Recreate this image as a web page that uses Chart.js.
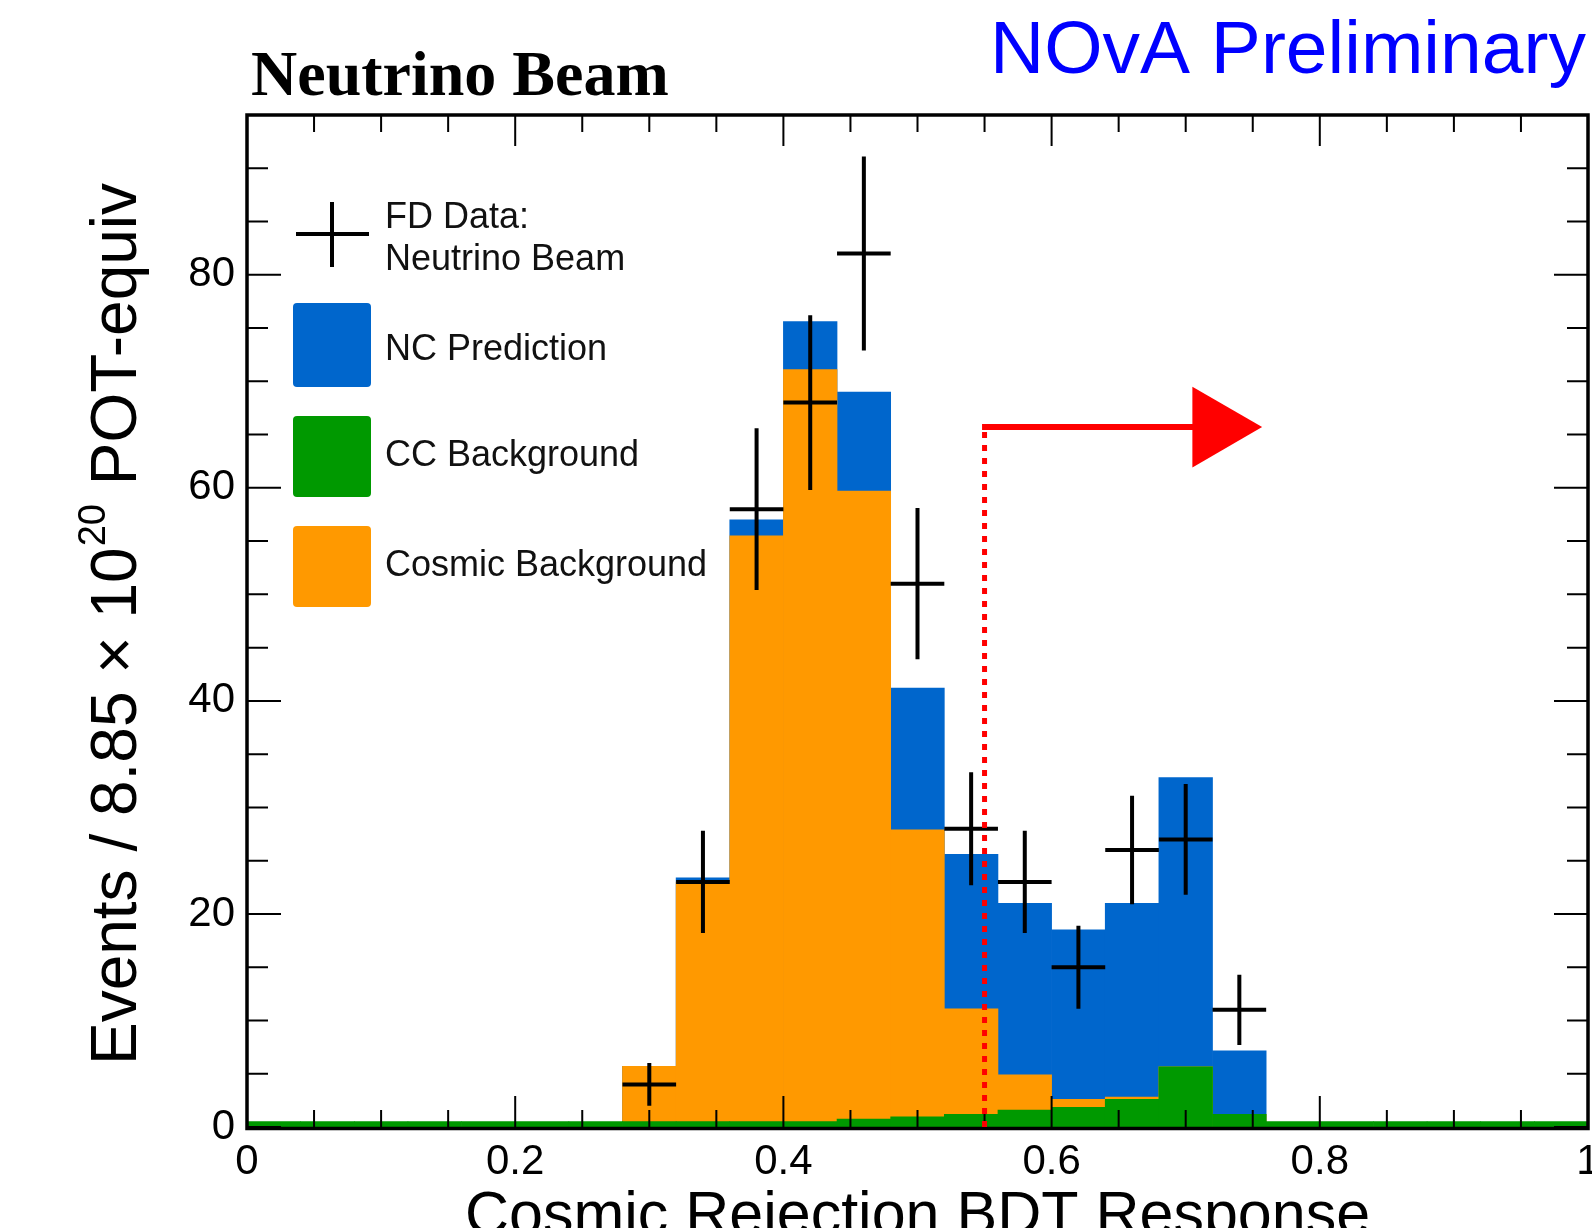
<!DOCTYPE html>
<html>
<head>
<meta charset="utf-8">
<script src="https://cdn.jsdelivr.net/npm/chart.js@4.4.1/dist/chart.umd.min.js"></script>
<style>
  html, body { margin: 0; padding: 0; background: #fff; }
  canvas { display: block; }
</style>
</head>
<body>
<canvas id="chartBDT" width="1592" height="1228"></canvas>
<script>
// histogram bins (width 0.04) of the cosmic rejection BDT
const binCenters = [0.02, 0.06, 0.10, 0.14, 0.18, 0.22, 0.26, 0.30, 0.34, 0.38, 0.42, 0.46, 0.50,
                    0.54, 0.58, 0.62, 0.66, 0.70, 0.74, 0.78, 0.82, 0.86, 0.90, 0.94, 0.98];
// levels as drawn (overlaid): NC prediction = total, cosmic = cosmic + CC, CC alone
const ncTotal   = [0, 0, 0, 0, 0, 0, 0, 5.7, 23.4, 57.0, 75.6, 69.0, 41.2,
                   25.6, 21.0, 18.5, 21.0, 32.8, 7.15, 0, 0, 0, 0, 0, 0];
const cosmicBkg = [0, 0, 0, 0, 0, 0, 0, 5.7, 23.0, 55.5, 71.1, 59.7, 27.9,
                   11.1, 4.9, 2.6, 2.8, 5.65, 1.2, 0, 0, 0, 0, 0, 0];
const ccBkg     = [0.5, 0.5, 0.5, 0.5, 0.5, 0.5, 0.5, 0.5, 0.5, 0.5, 0.5, 0.75, 0.95,
                   1.2, 1.6, 1.85, 2.6, 5.65, 1.2, 0.5, 0.5, 0.5, 0.5, 0.5, 0.5];

// FD data points with errors
const dataX   = [0.30, 0.34, 0.38, 0.42, 0.46, 0.50, 0.54, 0.58, 0.62, 0.66, 0.70, 0.74];
const dataY   = [4, 23, 58, 68, 82, 51, 28, 23, 15, 26, 27, 11];
const dataErr = [2.0, 4.8, 7.6, 8.2, 9.1, 7.1, 5.3, 4.8, 3.9, 5.1, 5.2, 3.3];

const xTickValues = [0, 0.2, 0.4, 0.6, 0.8, 1];
const xTickLabels = ['0', '0.2', '0.4', '0.6', '0.8', '1'];
const yTickValues = [0, 20, 40, 60, 80];
const yTickLabels = ['0', '20', '40', '60', '80'];

// selection cut
const cutValue = 0.55;
const arrowLevel = 65.7;
const arrowTip = 0.757;

const binWidth = 0.04;
const sans = '"Liberation Sans", Arial, Helvetica, sans-serif';

const histo = (vals) => binCenters.map((x, i) => ({ x: x, y: vals[i] }));

// ROOT-ish frame, inner ticks, data crosses, cut arrow, legend and titles
const rootStyle = {
    id: 'rootStyle',
    afterDatasetsDraw(chart) {
        const c = chart.ctx;
        const xs = chart.scales.x, ys = chart.scales.y;
        const a = chart.chartArea;
        c.save();

        // data crosses
        c.strokeStyle = '#000';
        c.lineWidth = 4;
        dataX.forEach((x, i) => {
            const px = xs.getPixelForValue(x);
            const py = ys.getPixelForValue(dataY[i]);
            c.beginPath();
            c.moveTo(xs.getPixelForValue(x - binWidth / 2), py);
            c.lineTo(xs.getPixelForValue(x + binWidth / 2), py);
            c.moveTo(px, ys.getPixelForValue(dataY[i] + dataErr[i]));
            c.lineTo(px, ys.getPixelForValue(dataY[i] - dataErr[i]));
            c.stroke();
        });

        // frame
        c.lineWidth = 3.5;
        c.strokeStyle = '#000';
        c.strokeRect(a.left, a.top, a.right - a.left, a.bottom - a.top + 1.5);

        // ticks
        c.lineWidth = 2;
        c.beginPath();
        for (let k = 0; k <= 20; k++) {
            const v = k * 0.05;
            const len = (k % 4 === 0) ? 31 : 17;
            const px = xs.getPixelForValue(v);
            c.moveTo(px, a.bottom); c.lineTo(px, a.bottom - len);
            c.moveTo(px, a.top); c.lineTo(px, a.top + len);
        }
        for (let k = 0; k <= 19; k++) {
            const v = k * 5;
            const len = (k % 4 === 0) ? 34 : 21;
            const py = ys.getPixelForValue(v);
            c.moveTo(a.left, py); c.lineTo(a.left + len, py);
            c.moveTo(a.right, py); c.lineTo(a.right - len, py);
        }
        c.stroke();

        // cut line and arrow
        const cx = xs.getPixelForValue(cutValue);
        const ay = ys.getPixelForValue(arrowLevel);
        const tipX = xs.getPixelForValue(arrowTip);
        const baseX = xs.getPixelForValue(arrowTip - 0.052);
        const half = ys.getPixelForValue(0) - ys.getPixelForValue(3.8);
        c.strokeStyle = '#ff0000';
        c.fillStyle = '#ff0000';
        c.lineWidth = 5;
        c.setLineDash([6, 7]);
        c.beginPath();
        c.moveTo(cx, ys.getPixelForValue(0));
        c.lineTo(cx, ay);
        c.stroke();
        c.setLineDash([]);
        c.lineWidth = 6;
        c.beginPath();
        c.moveTo(cx - 2.5, ay);
        c.lineTo(baseX + 2, ay);
        c.stroke();
        c.beginPath();
        c.moveTo(baseX, ay - half);
        c.lineTo(tipX, ay);
        c.lineTo(baseX, ay + half);
        c.closePath();
        c.fill();
        c.restore();
    },
    afterDraw(chart) {
        const c = chart.ctx;
        const a = chart.chartArea;
        c.save();

        // legend
        c.strokeStyle = '#000';
        c.lineWidth = 4;
        c.beginPath();
        c.moveTo(296, 234); c.lineTo(369, 234);
        c.moveTo(332, 202); c.lineTo(332, 267);
        c.stroke();
        const boxes = [['#0066cc', 303, 84], ['#009900', 416, 81], ['#ff9900', 526, 81]];
        boxes.forEach(b => {
            c.fillStyle = b[0];
            c.beginPath();
            c.roundRect(293, b[1], 78, b[2], 4);
            c.fill();
        });
        c.fillStyle = '#111';
        c.font = '36px ' + sans;
        c.textAlign = 'left';
        c.textBaseline = 'alphabetic';
        c.fillText('FD Data:', 385, 228);
        c.fillText('Neutrino Beam', 385, 270);
        c.fillText('NC Prediction', 385, 360);
        c.fillText('CC Background', 385, 466);
        c.fillText('Cosmic Background', 385, 576);

        // titles above the frame
        c.fillStyle = '#000';
        c.font = 'bold 64px "Liberation Serif", "Times New Roman", serif';
        c.fillText('Neutrino Beam', 251, 95);
        c.fillStyle = '#0000ff';
        c.font = '75px ' + sans;
        c.fillText('NOvA Preliminary', 990, 73);

        // x axis title
        c.fillStyle = '#000';
        c.font = '61px ' + sans;
        c.textAlign = 'center';
        c.fillText('Cosmic Rejection BDT Response', (a.left + a.right) / 2, 1234);

        // y axis title with superscript
        const mainFont = '64px ' + sans, supFont = '38px ' + sans;
        const p1 = 'Events / 8.85 \u00d7 10', p2 = '20', p3 = ' POT-equiv';
        c.font = mainFont; const w1 = c.measureText(p1).width, w3 = c.measureText(p3).width;
        c.font = supFont; const w2 = c.measureText(p2).width;
        const total = w1 + w2 + w3;
        c.translate(136, (a.top + a.bottom) / 2 + 4);
        c.rotate(-Math.PI / 2);
        c.textAlign = 'left';
        let x0 = -total / 2;
        c.font = mainFont; c.fillText(p1, x0, 0);
        c.font = supFont; c.fillText(p2, x0 + w1 + 1, -31);
        c.font = mainFont; c.fillText(p3, x0 + w1 + w2 + 2, 0);
        c.restore();
    }
};

const ctxBDT = document.querySelector('#chartBDT').getContext('2d');
const chartBDT = new Chart(ctxBDT, {
    type: 'bar',
    data: {
        datasets: [
            {
                label: 'FD Data: Neutrino Beam',
                type: 'scatter',
                data: dataX.map((x, i) => ({ x: x, y: dataY[i] })),
                pointRadius: 0,
                order: 0
            },
            { label: 'CC Background', data: histo(ccBkg), backgroundColor: '#009900', order: 1 },
            { label: 'Cosmic Background', data: histo(cosmicBkg), backgroundColor: '#ff9900', order: 2 },
            { label: 'NC Prediction', data: histo(ncTotal), backgroundColor: '#0066cc', order: 3 }
        ]
    },
    options: {
        responsive: false,
        animation: false,
        events: [],
        datasets: {
            bar: { grouped: false, barPercentage: 1, categoryPercentage: 1, borderWidth: 0 }
        },
        layout: {
            autoPadding: false,
            padding: { top: 115, right: 4, left: 0, bottom: 0 }
        },
        plugins: {
            legend: { display: false },
            tooltip: { enabled: false }
        },
        scales: {
            x: {
                type: 'linear',
                min: 0,
                max: 1,
                offset: false,
                grid: { display: false, drawTicks: false },
                border: { display: false },
                afterBuildTicks: s => { s.ticks = xTickValues.map(v => ({ value: v })); },
                afterFit: s => { s.height = 101; s.paddingLeft = 0; s.paddingRight = 0; },
                ticks: {
                    callback: (v, i) => xTickLabels[i],
                    font: { family: sans, size: 42 },
                    color: '#000',
                    padding: 10,
                    maxRotation: 0,
                    autoSkip: false
                }
            },
            y: {
                min: 0,
                max: 95,
                grid: { display: false, drawTicks: false },
                border: { display: false },
                afterBuildTicks: s => { s.ticks = yTickValues.map(v => ({ value: v })); },
                afterFit: s => { s.width = 247; s.paddingTop = 0; s.paddingBottom = 0; },
                ticks: {
                    callback: (v, i) => yTickLabels[i],
                    font: { family: sans, size: 42 },
                    color: '#000',
                    padding: 12
                }
            }
        }
    },
    plugins: [rootStyle]
});
</script>
</body>
</html>
